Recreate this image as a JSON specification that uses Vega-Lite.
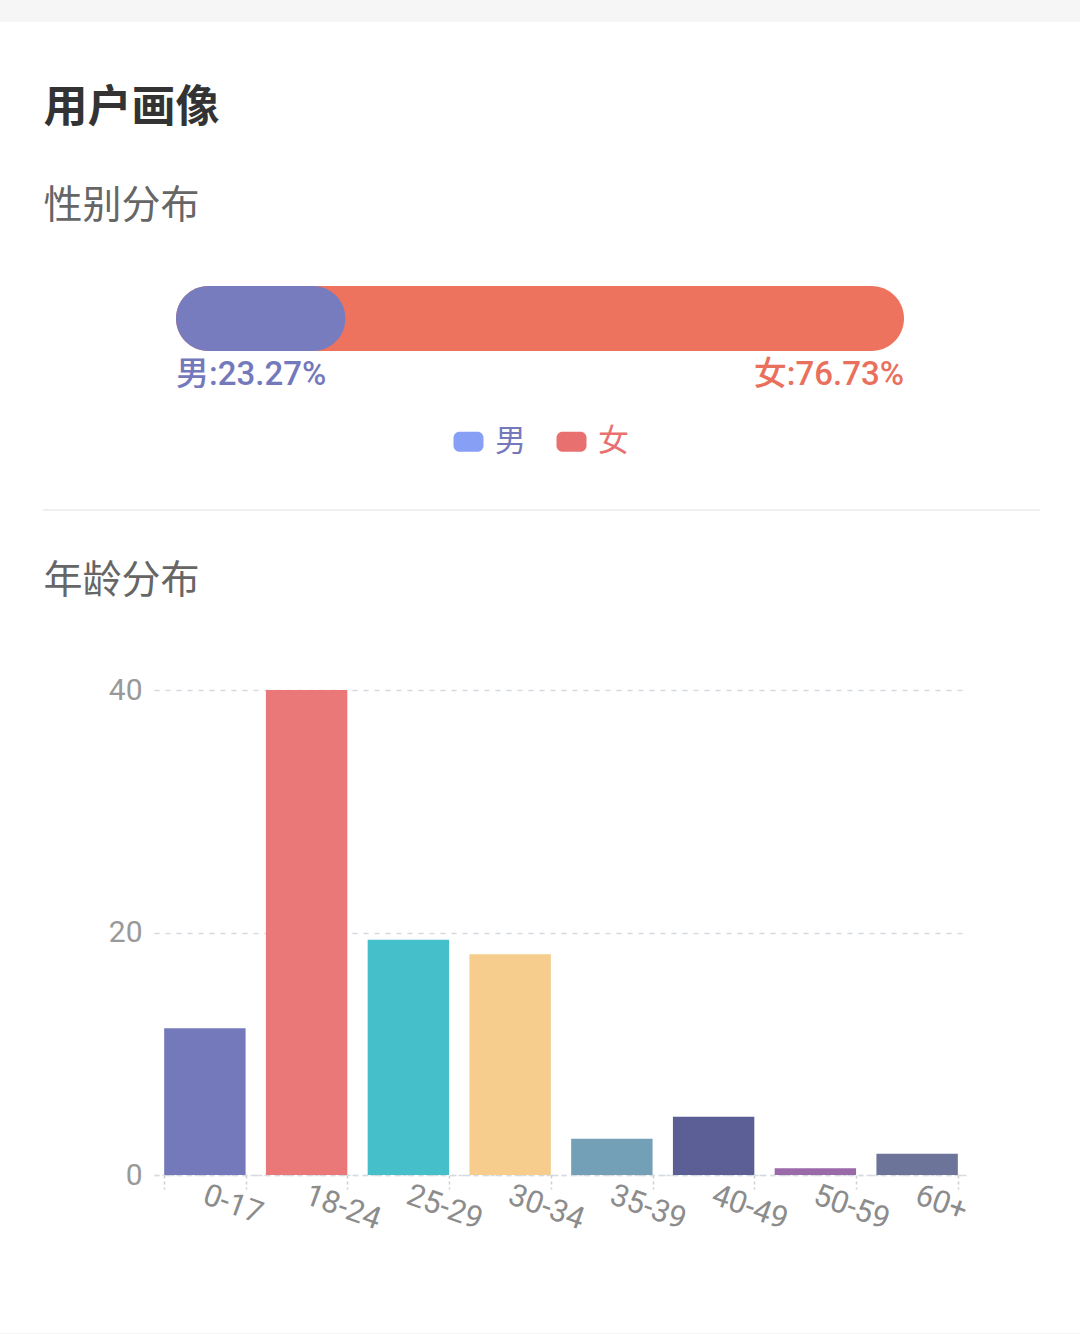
{
  "$schema": "https://vega.github.io/schema/vega-lite/v6.json",
  "width": 1080,
  "height": 1311,
  "autosize": "none",
  "padding": {"top": 22, "left": 0, "right": 0, "bottom": 1},
  "background": "#f6f6f6",
  "config": {
    "view": {"fill": "white", "stroke": null},
    "font": "Roboto, Noto Sans CJK SC",
    "axis": {"labelFont": "Roboto, Noto Sans CJK SC", "titleFont": "Noto Sans CJK SC"},
    "legend": {"labelFont": "Noto Sans CJK SC"}
  },
  "layer": [
    {
      "data": {
        "values": [
          {"gender": "女", "from": 0, "to": 100, "pct": 76.73, "label": "女:76.73%", "row": "性别"},
          {"gender": "男", "from": 0, "to": 23.27, "pct": 23.27, "label": "男:23.27%", "row": "性别"}
        ]
      },
      "encoding": {
        "x": {
          "field": "from",
          "type": "quantitative",
          "scale": {"domain": [0, 100], "range": [176, 904], "nice": false, "zero": false},
          "axis": {
            "orient": "top",
            "domain": false,
            "ticks": false,
            "labels": false,
            "grid": false,
            "title": "用户画像",
            "titleX": 43,
            "titleY": 86,
            "titleAngle": 0,
            "titleAlign": "left",
            "titleBaseline": "middle",
            "titleFontSize": 44,
            "titleFontWeight": "bold",
            "titleColor": "#333333"
          }
        },
        "y": {
          "field": "row",
          "type": "nominal",
          "scale": {"range": [264, 329], "paddingInner": 0, "paddingOuter": 0},
          "axis": {
            "orient": "left",
            "domain": false,
            "ticks": false,
            "labels": false,
            "grid": false,
            "title": "性别分布",
            "titleX": 43,
            "titleY": 183,
            "titleAngle": 0,
            "titleAlign": "left",
            "titleBaseline": "middle",
            "titleFontSize": 39,
            "titleFontWeight": "normal",
            "titleColor": "#666666"
          }
        }
      },
      "layer": [
        {
          "mark": {"type": "bar", "opacity": 0},
          "encoding": {
            "x2": {"field": "to"},
            "color": {
              "field": "gender",
              "type": "nominal",
              "scale": {"domain": ["男", "女"], "range": ["#87a0f5", "#e8706f"]},
              "legend": {
                "title": null,
                "orient": "none",
                "legendX": 453,
                "legendY": 404,
                "direction": "horizontal",
                "padding": 0,
                "symbolType": "M-0.6,-0.667 L0.6,-0.667 A0.4,0.4 0 0 1 1,-0.267 L1,0.267 A0.4,0.4 0 0 1 0.6,0.667 L-0.6,0.667 A0.4,0.4 0 0 1 -1,0.267 L-1,-0.267 A0.4,0.4 0 0 1 -0.6,-0.667 Z",
                "symbolSize": 900,
                "symbolStrokeWidth": 0,
                "symbolOpacity": 1,
                "labelFontSize": 31,
                "labelOffset": 11,
                "columnPadding": 30,
                "encode": {
                  "labels": {"update": {"fill": {"signal": "datum.value === '男' ? '#7479bc' : '#e8706f'"}}}
                }
              }
            }
          }
        },
        {
          "mark": {"type": "bar", "cornerRadius": 32.5},
          "encoding": {
            "x2": {"field": "to"},
            "color": {
              "field": "gender",
              "type": "nominal",
              "scale": {"domain": ["男", "女"], "range": ["#767cbd", "#ee735e"]},
              "legend": null
            }
          }
        },
        {
          "transform": [{"filter": "datum.gender === '男'"}],
          "mark": {"type": "text", "align": "left", "baseline": "middle", "dy": 56, "fontSize": 33, "fontWeight": 500, "color": "#7479bc"},
          "encoding": {"text": {"field": "label"}}
        },
        {
          "transform": [{"filter": "datum.gender === '女'"}],
          "mark": {"type": "text", "align": "right", "baseline": "middle", "dy": 56, "fontSize": 33, "fontWeight": 500, "color": "#e9705d"},
          "encoding": {"x": {"field": "to", "type": "quantitative"}, "text": {"field": "label"}}
        }
      ],
      "resolve": {"scale": {"color": "independent"}, "legend": {"color": "independent"}}
    },
    {
      "data": {"values": [{"a": 0, "b": 1, "r": 0}]},
      "mark": {"type": "rule", "color": "#efefef", "strokeWidth": 2},
      "encoding": {
        "x": {"field": "a", "type": "quantitative", "scale": {"domain": [0, 1], "range": [43, 1040]}, "axis": null},
        "x2": {"field": "b"},
        "y": {"field": "r", "type": "quantitative", "scale": {"domain": [0, 1], "range": [488, 489]}, "axis": null}
      }
    },
    {
      "data": {
        "values": [
          {"age": "0-17", "value": 12.1},
          {"age": "18-24", "value": 40.0},
          {"age": "25-29", "value": 19.4},
          {"age": "30-34", "value": 18.2},
          {"age": "35-39", "value": 3.0},
          {"age": "40-49", "value": 4.8},
          {"age": "50-59", "value": 0.55},
          {"age": "60+", "value": 1.75}
        ]
      },
      "mark": {"type": "bar"},
      "encoding": {
        "x": {
          "field": "age",
          "type": "nominal",
          "sort": null,
          "scale": {"range": [154, 968], "paddingInner": 0.2, "paddingOuter": 0.1},
          "axis": {
            "orient": "bottom",
            "offset": -158,
            "title": null,
            "tickBand": "extent",
            "domainColor": "#d6dbe2",
            "domainDash": [4, 4],
            "domainWidth": 1.5,
            "tickColor": "#cfcfcf",
            "tickDash": [3, 3],
            "tickSize": 14,
            "tickWidth": 1.5,
            "labelAngle": 20,
            "labelAlign": "left",
            "labelBaseline": "top",
            "labelPadding": -9,
            "labelOffset": 4,
            "labelFontSize": 31,
            "labelColor": "#8c8c8c"
          }
        },
        "y": {
          "field": "value",
          "type": "quantitative",
          "scale": {"domain": [0, 40], "range": [1153, 668], "nice": false},
          "axis": {
            "orient": "left",
            "offset": -154,
            "values": [0, 20, 40],
            "domain": false,
            "ticks": false,
            "labelPadding": 12,
            "labelFontSize": 30,
            "labelColor": "#999999",
            "grid": true,
            "gridColor": "#d3d9e0",
            "gridDash": [5, 6],
            "gridWidth": 1.5,
            "title": "年龄分布",
            "titleX": -111,
            "titleY": 558,
            "titleAngle": 0,
            "titleAlign": "left",
            "titleBaseline": "middle",
            "titleFontSize": 39,
            "titleFontWeight": "normal",
            "titleColor": "#666666"
          }
        },
        "color": {
          "field": "age",
          "type": "nominal",
          "sort": null,
          "scale": {
            "domain": ["0-17", "18-24", "25-29", "30-34", "35-39", "40-49", "50-59", "60+"],
            "range": ["#7479bc", "#ea7878", "#45bfca", "#f6cd8d", "#739fb7", "#5c5f96", "#9a69a8", "#6c7499"]
          },
          "legend": null
        }
      }
    }
  ],
  "resolve": {"scale": {"x": "independent", "y": "independent", "color": "independent"}, "axis": {"x": "independent", "y": "independent"}, "legend": {"color": "independent"}}
}
